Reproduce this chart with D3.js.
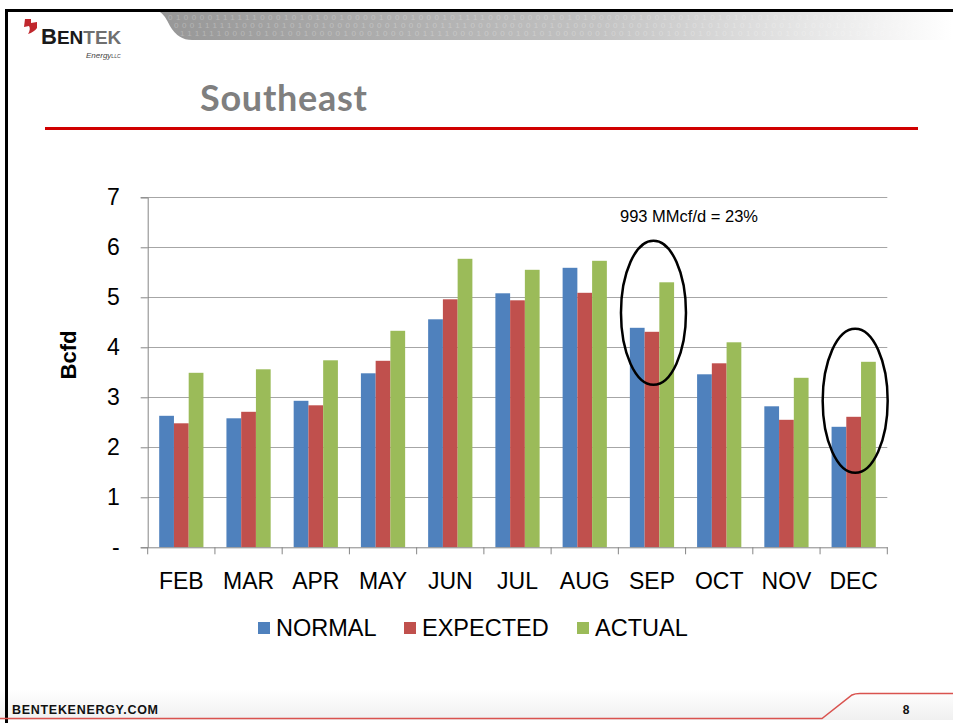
<!DOCTYPE html>
<html>
<head>
<meta charset="utf-8">
<script src="https://cdn.jsdelivr.net/npm/d3@7"></script>
<style>
  html, body { margin: 0; padding: 0; background: #fff; }
  svg { display: block; }
</style>
</head>
<body>
<div class="visContainer"></div>
<script>
// Chart data.
const months = ['FEB', 'MAR', 'APR', 'MAY', 'JUN', 'JUL', 'AUG', 'SEP', 'OCT', 'NOV', 'DEC'];
const seriesNames = ['NORMAL', 'EXPECTED', 'ACTUAL'];
const normal   = [2.63, 2.58, 2.93, 3.48, 4.56, 5.08, 5.59, 4.39, 3.46, 2.82, 2.41];
const expected = [2.48, 2.71, 2.84, 3.73, 4.96, 4.94, 5.09, 4.31, 3.68, 2.55, 2.61];
const actual   = [3.49, 3.56, 3.74, 4.33, 5.77, 5.55, 5.73, 5.30, 4.10, 3.39, 3.71];
const yTicks = [0, 1, 2, 3, 4, 5, 6, 7];
const calloutMonths = ['SEP', 'DEC'];
const calloutCenters = [4.69, 2.93];
const calloutText = '993 MMcf/d = 23%';

const colors = ['#4F81BD', '#C0504D', '#9BBB59'];

// SVG constants.
const width = 953;
const height = 723;

const svg = d3.select('.visContainer')
              .append('svg')
              .attr('width', width)
              .attr('height', height);

const defs = svg.append('defs');
const grad = defs.append('linearGradient')
                 .attr('id', 'banner')
                 .attr('x1', '0').attr('x2', '1').attr('y1', '0').attr('y2', '0');
grad.append('stop').attr('offset', '0%').attr('stop-color', '#979797');
grad.append('stop').attr('offset', '55%').attr('stop-color', '#c2c2c2');
grad.append('stop').attr('offset', '100%').attr('stop-color', '#ffffff');

const footGrad = defs.append('linearGradient')
                     .attr('id', 'foot')
                     .attr('x1', '0').attr('x2', '0').attr('y1', '0').attr('y2', '1');
footGrad.append('stop').attr('offset', '0%').attr('stop-color', '#ffffff');
footGrad.append('stop').attr('offset', '100%').attr('stop-color', '#f0f0f0');

// Slide frame.
svg.append('rect')
   .attr('x', 0).attr('y', 690).attr('width', width).attr('height', 30)
   .attr('fill', 'url(#foot)');

svg.append('path')
   .attr('d', 'M160,12 L953,12 L953,40 L192,40 Q178,40 170,26 Q164,14 160,12 Z')
   .attr('fill', 'url(#banner)');

const bits = '0100001111110001010100100001000100010111100010000101010000001001001010101010101001010001100101001';
[20, 28, 36].forEach((yy, i) => {
    svg.append('text')
       .attr('x', 168 + i * 6)
       .attr('y', yy)
       .attr('font-family', 'Liberation Sans Narrow, Arial, sans-serif')
       .attr('font-size', '8px')
       .attr('fill', '#ffffff')
       .attr('opacity', 0.25)
       .attr('textLength', 760)
       .text(bits.slice(i * 3) + bits.slice(0, i * 3));
});

svg.append('line')
   .attr('x1', 5).attr('x2', width).attr('y1', 10.5).attr('y2', 10.5)
   .attr('stroke', '#000').attr('stroke-width', 3);
svg.append('line')
   .attr('x1', 6.5).attr('x2', 6.5).attr('y1', 9).attr('y2', height)
   .attr('stroke', '#000').attr('stroke-width', 3);

// Logo.
svg.append('path')
   .attr('d', 'M25,19 L31,19 L31,23 L37,22 L37,28 Q34,32 28,34 Q31,29 29,26 L24,27 Z')
   .attr('fill', '#c0272d');
svg.append('text')
   .attr('x', 41).attr('y', 44)
   .attr('font-family', 'Liberation Sans, Arial, sans-serif')
   .attr('font-weight', 'bold')
   .attr('font-size', '22px')
   .attr('fill', '#1a1a1a')
   .html('B<tspan font-size="19px">EN</tspan><tspan font-size="19px" fill="#6f6f6f">TEK</tspan>');
svg.append('text')
   .attr('x', 86).attr('y', 58)
   .attr('font-family', 'Liberation Sans, Arial, sans-serif')
   .attr('font-style', 'italic')
   .attr('font-size', '8px')
   .attr('fill', '#444')
   .html('Energy<tspan font-size="5px">LLC</tspan>');

// Title.
svg.append('text')
   .attr('x', 200).attr('y', 111)
   .attr('font-family', 'Lato, "Open Sans", sans-serif')
   .attr('font-weight', 'bold')
   .attr('font-size', '36px')
   .attr('fill', '#7f7f7f')
   .attr('textLength', 167)
   .text('Southeast');

svg.append('line')
   .attr('x1', 45).attr('x2', 918).attr('y1', 128.5).attr('y2', 128.5)
   .attr('stroke', '#d00000').attr('stroke-width', 3);

// Footer.
svg.append('path')
   .attr('d', 'M0,718.5 L822,718.5 L852,695 Q855,693.5 860,693.5 L953,693.5')
   .attr('fill', 'none')
   .attr('stroke', '#d9534f').attr('stroke-width', 1.5);
svg.append('text')
   .attr('x', 12).attr('y', 714)
   .attr('font-family', 'Liberation Sans, Arial, sans-serif')
   .attr('font-weight', 'bold')
   .attr('font-size', '12.5px')
   .attr('fill', '#111')
   .attr('textLength', 146)
   .text('BENTEKENERGY.COM');
svg.append('text')
   .attr('x', 906).attr('y', 714)
   .attr('text-anchor', 'middle')
   .attr('font-family', 'Liberation Sans, Arial, sans-serif')
   .attr('font-weight', 'bold')
   .attr('font-size', '12px')
   .attr('fill', '#111')
   .text('8');

// Scales.
const plotLeft = 147.7, plotRight = 887.3, plotTop = 197.3, plotBottom = 547.3;

const xScale = d3.scaleBand()
                 .domain(months)
                 .range([plotLeft, plotRight])
                 .padding(0);

const xSub = d3.scaleBand()
               .domain(seriesNames)
               .range([0, xScale.bandwidth()])
               .paddingInner(0)
               .paddingOuter(0.78);

const yScale = d3.scaleLinear()
                 .domain([0, 7])
                 .range([plotBottom, plotTop]);

const font = 'Liberation Sans, Arial, sans-serif';

// Gridlines.
svg.append('g')
   .selectAll('line')
   .data(yTicks.filter(d => d > 0))
   .enter()
   .append('line')
   .attr('x1', plotLeft).attr('x2', plotRight)
   .attr('y1', d => Math.round(yScale(d)) + 0.5)
   .attr('y2', d => Math.round(yScale(d)) + 0.5)
   .attr('stroke', '#a6a6a6')
   .attr('stroke-width', 1);

// Bars.
const rows = months.map((m, i) => ({ month: m, values: [normal[i], expected[i], actual[i]] }));

const groups = svg.append('g')
   .selectAll('g')
   .data(rows)
   .enter()
   .append('g')
   .attr('transform', d => 'translate(' + xScale(d.month) + ',0)');

groups.selectAll('rect')
   .data(d => d.values.map((v, j) => ({ name: seriesNames[j], value: v, idx: j })))
   .enter()
   .append('rect')
   .attr('x', d => xSub(d.name))
   .attr('y', d => yScale(d.value))
   .attr('width', xSub.bandwidth())
   .attr('height', d => plotBottom - yScale(d.value))
   .attr('fill', d => colors[d.idx]);

// Y axis.
const yAxis = d3.axisLeft(yScale)
                .tickValues(yTicks)
                .tickSize(7)
                .tickPadding(21)
                .tickFormat(d => d === 0 ? '-' : d);

const yG = svg.append('g')
   .attr('transform', 'translate(' + plotLeft + ',0)')
   .call(yAxis);
yG.select('.domain').attr('stroke', '#868686');
yG.selectAll('.tick line').attr('stroke', '#868686');
yG.selectAll('.tick text')
  .attr('font-family', font)
  .attr('font-size', '23px')
  .attr('fill', '#000');

// X axis.
const xAxis = d3.axisBottom(xScale)
                .tickSize(0)
                .tickPadding(25);

const xG = svg.append('g')
   .attr('transform', 'translate(0,' + plotBottom + ')')
   .call(xAxis);
xG.select('.domain').attr('stroke', '#868686');
xG.selectAll('.tick text')
  .attr('font-family', font)
  .attr('font-size', '23px')
  .attr('fill', '#000');

// Category boundary ticks.
xG.append('g')
  .selectAll('line')
  .data(months.concat(['end']))
  .enter()
  .append('line')
  .attr('x1', (d, i) => plotLeft + i * xScale.step())
  .attr('x2', (d, i) => plotLeft + i * xScale.step())
  .attr('y1', 0).attr('y2', 7)
  .attr('stroke', '#868686');

// Y axis title.
svg.append('text')
   .attr('transform', 'translate(76,355) rotate(-90)')
   .attr('text-anchor', 'middle')
   .attr('font-family', font)
   .attr('font-weight', 'bold')
   .attr('font-size', '22px')
   .attr('fill', '#000')
   .text('Bcfd');

// Callouts.
svg.append('g')
   .selectAll('ellipse')
   .data(calloutMonths)
   .enter()
   .append('ellipse')
   .attr('cx', d => xScale(d) + xScale.bandwidth() / 2 + 1.5)
   .attr('cy', (d, i) => yScale(calloutCenters[i]))
   .attr('rx', 32.5)
   .attr('ry', 72)
   .attr('fill', 'none')
   .attr('stroke', '#000')
   .attr('stroke-width', 2.5);

svg.append('text')
   .attr('x', xScale('SEP') + xScale.bandwidth() / 2 + 37)
   .attr('y', 222)
   .attr('text-anchor', 'middle')
   .attr('font-family', font)
   .attr('font-size', '16.5px')
   .attr('fill', '#000')
   .text(calloutText);

// Legend.
const legendX = [258, 404, 577];
const legend = svg.append('g')
   .selectAll('g')
   .data(seriesNames)
   .enter()
   .append('g')
   .attr('transform', (d, i) => 'translate(' + legendX[i] + ',622)');
legend.append('rect')
   .attr('width', 12).attr('height', 12)
   .attr('fill', (d, i) => colors[i]);
legend.append('text')
   .attr('x', 18).attr('y', 14)
   .attr('font-family', font)
   .attr('font-size', '23.5px')
   .attr('fill', '#000')
   .text(d => d);
</script>
</body>
</html>
